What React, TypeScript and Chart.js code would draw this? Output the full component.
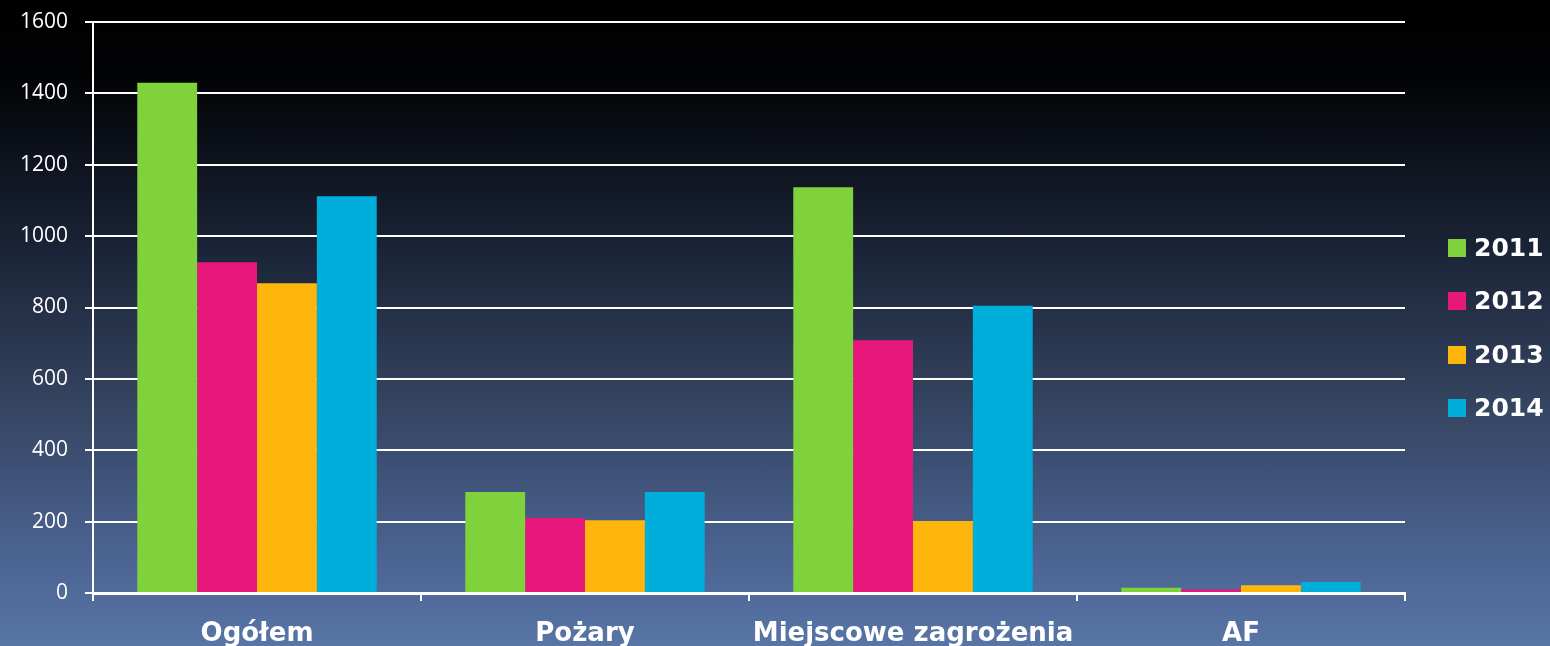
import React, { useEffect, useRef } from "react";
import { Chart, registerables } from "chart.js";

Chart.register(...registerables);

const categories = ["Ogółem", "Pożary", "Miejscowe zagrożenia", "AF"];
const seriesNames = ["2011", "2012", "2013", "2014"];
const values2011 = [1430, 283, 1137, 15];
const values2012 = [927, 210, 708, 10];
const values2013 = [868, 204, 202, 22];
const values2014 = [1112, 283, 805, 31];
const seriesColors = ["#80d23c", "#e8177c", "#ffb60c", "#00aedc"];
const yTicks = [0, 200, 400, 600, 800, 1000, 1200, 1400, 1600];

export default function App() {
  const canvasRef = useRef<HTMLCanvasElement | null>(null);

  useEffect(() => {
    document.body.style.margin = "0";
    const canvas = canvasRef.current;
    if (!canvas) return;
    const allValues = [values2011, values2012, values2013, values2014];
    const chart = new Chart(canvas, {
      type: "bar",
      data: {
        labels: categories,
        datasets: seriesNames.map((name, i) => ({
          label: name,
          data: allValues[i],
          backgroundColor: seriesColors[i],
          borderWidth: 0,
          barPercentage: 1,
          categoryPercentage: 0.73,
        })),
      },
      options: {
        animation: false,
        responsive: false,
        maintainAspectRatio: false,
        layout: { padding: { top: 22, right: 145, bottom: 0, left: 0 } },
        plugins: {
          legend: { display: false },
          tooltip: { enabled: false },
        },
        scales: {
          x: {
            grid: {
              display: true,
              drawOnChartArea: false,
              drawTicks: true,
              tickLength: 8,
              color: "#ffffff",
              lineWidth: 2,
              offset: true,
            },
            border: { display: true, color: "#ffffff", width: 3 },
            ticks: {
              color: "#ffffff",
              font: { family: "'DejaVu Sans', sans-serif", size: 26, weight: "bold" },
              padding: 18,
            },
            afterFit: (scale: any) => {
              scale.height = 53;
              scale.paddingLeft = 0;
              scale.paddingRight = 0;
            },
          },
          y: {
            min: 0,
            max: 1600,
            afterBuildTicks: (scale: any) => {
              scale.ticks = yTicks.map((v) => ({ value: v }));
            },
            grid: {
              color: "#ffffff",
              lineWidth: 2,
              tickLength: 8,
              drawTicks: true,
            },
            border: { display: true, color: "#ffffff", width: 2 },
            ticks: {
              color: "#ffffff",
              font: { family: "'Open Sans', Lato, sans-serif", size: 21 },
              padding: 17,
              callback: (v: any) => String(v),
            },
            afterFit: (scale: any) => {
              scale.width = 93;
              scale.paddingTop = 0;
              scale.paddingBottom = 0;
            },
          },
        },
      },
    });
    return () => chart.destroy();
  }, []);

  return (
    <div
      style={{
        position: "fixed",
        left: 0,
        top: 0,
        width: 1550,
        height: 646,
        background:
          "linear-gradient(to bottom, #000000 0%, #020305 12%, #1a2336 38%, #34435f 62%, #4a6290 85%, #5875a6 100%)",
        overflow: "hidden",
      }}
    >
      <canvas ref={canvasRef} width={1550} height={646} style={{ display: "block" }} />
      <div
        style={{
          position: "absolute",
          left: 1448,
          top: 221,
          fontFamily: "'DejaVu Sans', sans-serif",
          fontWeight: "bold",
          fontSize: 25,
          color: "#ffffff",
        }}
      >
        {seriesNames.map((name, i) => (
          <div key={name} style={{ display: "flex", alignItems: "center", height: 53.5 }}>
            <span
              style={{
                display: "inline-block",
                width: 18,
                height: 18,
                background: seriesColors[i],
                marginRight: 8,
              }}
            />
            <span style={{ lineHeight: "28px" }}>{name}</span>
          </div>
        ))}
      </div>
    </div>
  );
}
